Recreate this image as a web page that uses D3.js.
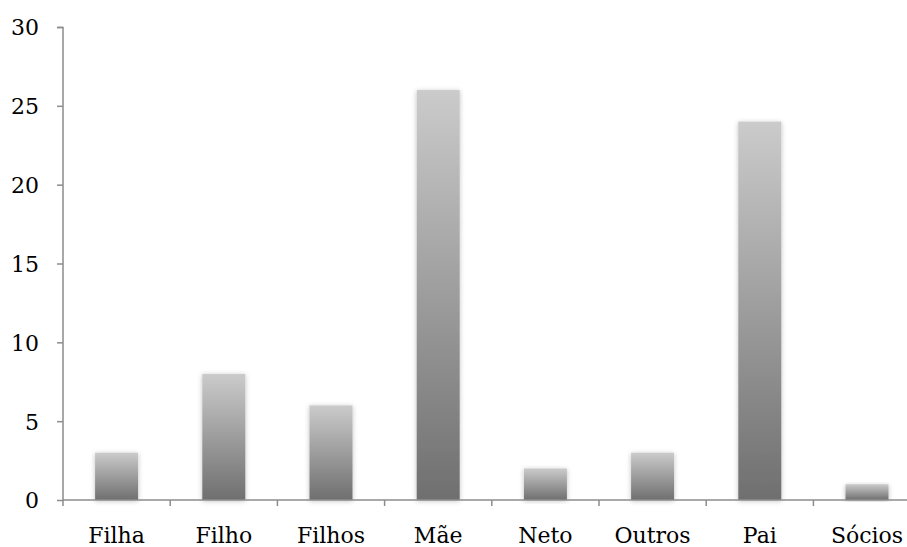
<!DOCTYPE html>
<html>
<head>
<meta charset="utf-8">
<script src="https://cdn.jsdelivr.net/npm/d3@7"></script>
<style>
  body { margin: 0; background: #fff; }
  svg { display: block; }
</style>
</head>
<body>
<svg id="chart" width="907" height="547"></svg>
<script>
const categories = ['Filha', 'Filho', 'Filhos', 'Mãe', 'Neto', 'Outros', 'Pai', 'Sócios'];
const values     = [3, 8, 6, 26, 2, 3, 24, 1];
const yTicks     = [0, 5, 10, 15, 20, 25, 30];

const FONT = '"DejaVu Serif", "Liberation Serif", serif';
const svg = d3.select('#chart');
const margin = { top: 27, left: 63, bottom: 47 };
const bandW = 107.2;
const h = 547 - margin.top - margin.bottom;

const x = d3.scaleBand().domain(categories).range([0, bandW * categories.length]).paddingInner(0).paddingOuter(0);
const y = d3.scaleLinear().domain([0, 30]).range([h, 0]);

const defs = svg.append('defs');
const grad = defs.append('linearGradient').attr('id', 'barGrad')
  .attr('x1', 0).attr('y1', 0).attr('x2', 0).attr('y2', 1);
grad.append('stop').attr('offset', '0%').attr('stop-color', '#cbcbcb');
grad.append('stop').attr('offset', '100%').attr('stop-color', '#6f6f6f');

const shadow = defs.append('filter').attr('id', 'shadow')
  .attr('x', '-30%').attr('y', '-10%').attr('width', '160%').attr('height', '120%');
shadow.append('feDropShadow').attr('dx', 0).attr('dy', 1).attr('stdDeviation', 2.5)
  .attr('flood-color', '#000').attr('flood-opacity', 0.25);

const g = svg.append('g').attr('transform', `translate(${margin.left},${margin.top})`);

const barW = 43;
g.selectAll('rect.bar').data(values).join('rect')
  .attr('class', 'bar')
  .attr('x', (d, i) => x(categories[i]) + x.bandwidth() / 2 - barW / 2)
  .attr('y', d => y(d))
  .attr('width', barW)
  .attr('height', d => y(0) - y(d))
  .attr('fill', 'url(#barGrad)')
  .attr('filter', 'url(#shadow)');

// y axis
const yAxis = g.append('g')
  .call(d3.axisLeft(y).tickValues(yTicks).tickSize(6).tickPadding(18));
yAxis.attr('font-family', FONT).attr('font-size', 22);
yAxis.selectAll('.tick text').attr('fill', '#000').attr('dy', '0.36em');
yAxis.select('.domain').attr('stroke', '#8c8c8c').attr('stroke-width', 1.5)
  .attr('d', `M-6,0.5H0V${h}`);
yAxis.selectAll('.tick line').attr('stroke', '#8c8c8c').attr('stroke-width', 1.5);

// x axis
const xAxis = g.append('g').attr('transform', `translate(0,${h})`);
xAxis.append('line').attr('x1', 0).attr('x2', 907 - margin.left).attr('y1', 0).attr('y2', 0)
  .attr('stroke', '#8c8c8c').attr('stroke-width', 1.5);
xAxis.selectAll('line.xt').data(categories).join('line')
  .attr('class', 'xt')
  .attr('x1', d => x(d)).attr('x2', d => x(d))
  .attr('y1', 0).attr('y2', 6)
  .attr('stroke', '#8c8c8c').attr('stroke-width', 1.5);
xAxis.selectAll('text').data(categories).join('text')
  .attr('x', d => x(d) + x.bandwidth() / 2)
  .attr('y', 43)
  .attr('text-anchor', 'middle')
  .style('font-family', FONT)
  .style('font-size', '22px')
  .text(d => d);
</script>
</body>
</html>
